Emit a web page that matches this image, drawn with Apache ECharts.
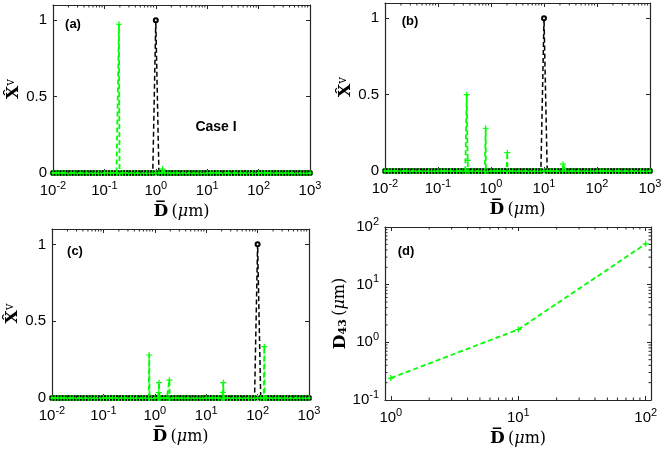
<!DOCTYPE html>
<html>
<head>
<meta charset="utf-8">
<script src="https://cdn.jsdelivr.net/npm/echarts@6/dist/echarts.min.js"></script>
<style>
  html, body { margin: 0; padding: 0; background: #fff; }
  #chart { width: 664px; height: 452px; }
</style>
</head>
<body>
<div id="chart"></div>
<script>
// size bins: mantissas inside one decade, and the decades they repeat over
const binMantissa = [1, 1.15, 1.31, 1.5, 1.72, 1.97, 2.25, 2.58, 2.96, 3.38, 3.87, 4.44, 5.08, 5.82, 6.66, 7.63, 8.73];
const binDecades = [0.01, 0.1, 1, 10, 100];
const binLast = 1000;

// initial distribution (black): non-zero bins [D, X]
const initA = [[1, 1]];
const initB = [[10, 1]];
const initC = [[100, 1]];

// recovered distribution (green): points off the zero baseline [D, X]
const resA = [[0.176, 0], [0.192, 0.974], [0.201, 0], [1.36, 0.026]];
const resB = [[0.327, 0], [0.348, 0.50], [0.363, 0.07], [0.368, 0],
              [0.78, 0], [0.794, 0.28], [0.80, 0],
              [2.0, 0], [2.03, 0.12], [2.05, 0],
              [22.8, 0.045]];
const resC = [[0.76, 0], [0.78, 0.28], [0.79, 0],
              [1.18, 0], [1.19, 0.035], [1.21, 0.10], [1.23, 0],
              [1.88, 0], [1.92, 0.116], [1.95, 0],
              [21.0, 0], [21.2, 0.036], [21.5, 0.10], [21.8, 0],
              [132, 0], [135, 0.334], [138, 0]];

// panel (d): mean size vs D43
const d43X = [1, 10, 100];
const d43Y = [0.24, 1.67, 51];

const yTicks = [0, 0.5, 1];
const minorSteps = [2, 3, 4, 5, 6, 7, 8, 9];
const panelTags = ['(a)', '(b)', '(c)', '(d)'];

const bins = binDecades.flatMap(d => binMantissa.map(m => +(d * m).toPrecision(3))).concat([binLast]);

function initSeries(peaks) {
  return bins.map(d => {
    const p = peaks.find(q => Math.abs(q[0] - d) < 1e-9);
    return [d, p ? p[1] : 0];
  });
}
function resSeries(points) {
  return bins.map(d => [d, 0]).concat(points).sort((a, b) => a[0] - b[0]);
}
function minorValues(decades, lo, hi) {
  return decades.flatMap(d => minorSteps.map(s => d * s)).filter(v => v > lo && v < hi);
}

const layout = [
  { left: 53, top: 5, width: 257, height: 168 },
  { left: 385, top: 3, width: 265, height: 168 },
  { left: 52, top: 229, width: 257, height: 169 },
  { left: 385, top: 227, width: 266, height: 173 }
];

const axisColor = '#262626';
const green = '#00ff00';
const plus = 'path://M4,0H6V4H10V6H6V10H4V6H0V4H4Z';

function powLabel(v) {
  const l = Math.log10(v);
  const e = Math.round(l);
  if (Math.abs(l - e) > 1e-6) return '';
  return '10{sup|' + e + '}';
}

const labelStyle = {
  color: '#000', fontFamily: 'Liberation Sans', fontSize: 15
};
const logLabel = Object.assign({}, labelStyle, {
  formatter: powLabel,
  lineHeight: 22,
  rich: { sup: { fontFamily: 'Liberation Sans', fontSize: 11, lineHeight: 10, verticalAlign: 'top', color: '#000' } }
});

const nameRich = {
  b: { fontFamily: 'DejaVu Serif', fontWeight: 'bold', fontSize: 17, color: '#000' },
  sup: { fontFamily: 'DejaVu Serif', fontSize: 12, verticalAlign: 'top', lineHeight: 12, color: '#000' },
  sub: { fontFamily: 'DejaVu Serif', fontWeight: 'bold', fontSize: 11, verticalAlign: 'bottom', lineHeight: 12, color: '#000' },
  r: { fontFamily: 'DejaVu Serif', fontSize: 16, color: '#000' },
  i: { fontFamily: 'DejaVu Serif', fontStyle: 'italic', fontSize: 16, color: '#000' }
};
const xName = '{b|D\u0305} {r|(}{i|\u03bc}{r|m)}';
const yNameX = '{b|X\u0302}{sup|v}';
const yNameD = '{b|D}{sub|43} {r|(}{i|\u03bc}{r|m)}';

function frameLine() {
  return { show: true, onZero: false, lineStyle: { color: axisColor, width: 1.2 } };
}
const majorTick = { show: true, inside: true, length: 4, lineStyle: { color: axisColor } };

const grids = layout.map(g => Object.assign({ containLabel: false, outerBoundsMode: 'none' }, g));
const xAxes = [];
const yAxes = [];

function addLogX(gi, min, max, nameGap) {
  xAxes.push({
    type: 'log', logBase: 10, gridIndex: gi, min: min, max: max, position: 'bottom',
    axisLine: frameLine(), axisTick: majorTick, splitLine: { show: false },
    axisLabel: Object.assign({ margin: 7 }, logLabel,
      { showMinLabel: min === 0.01, showMaxLabel: max === 1000 }),
    name: xName, nameLocation: 'middle', nameGap: nameGap,
    nameTextStyle: { rich: nameRich }
  });
  xAxes.push({
    type: 'log', logBase: 10, gridIndex: gi, min: min, max: max, position: 'top',
    axisLine: frameLine(), axisTick: majorTick, splitLine: { show: false },
    axisLabel: { show: false }
  });
}

function addLinY(gi) {
  yAxes.push({
    type: 'value', gridIndex: gi, min: 0, max: 1.1, interval: 0.5, position: 'left',
    axisLine: frameLine(), axisTick: majorTick, splitLine: { show: false },
    axisLabel: Object.assign({ margin: 6, showMaxLabel: false,
      formatter: v => (yTicks.indexOf(v) >= 0 ? String(v) : '') }, labelStyle),
    name: yNameX, nameLocation: 'middle', nameGap: 27,
    nameTextStyle: { rich: nameRich }
  });
  yAxes.push({
    type: 'value', gridIndex: gi, min: 0, max: 1.1, interval: 0.5, position: 'right',
    axisLine: frameLine(), axisTick: majorTick, splitLine: { show: false },
    axisLabel: { show: false }
  });
}

addLogX(0, 0.01, 1000, 28);
addLinY(0);
addLogX(1, 0.01, 1000, 28);
addLinY(1);
addLogX(2, 0.01, 1000, 29);
addLinY(2);
addLogX(3, 0.9, 110, 26);
yAxes.push({
  type: 'log', logBase: 10, gridIndex: 3, min: 0.1, max: 100, position: 'left',
  axisLine: frameLine(), axisTick: majorTick, splitLine: { show: false },
  axisLabel: Object.assign({ margin: 6 }, logLabel),
  name: yNameD, nameLocation: 'middle', nameGap: 36,
  nameTextStyle: { rich: nameRich }
});
yAxes.push({
  type: 'log', logBase: 10, gridIndex: 3, min: 0.1, max: 100, position: 'right',
  axisLine: frameLine(), axisTick: majorTick, splitLine: { show: false },
  axisLabel: { show: false }
});

// short inward minor ticks of the log axes, drawn on both edges of a panel
function minorTickSeries(gi, vals, horizontal) {
  return {
    type: 'custom', xAxisIndex: gi * 2, yAxisIndex: gi * 2, clip: false, silent: true, z: 5,
    data: vals.map(v => [v]),
    renderItem: function (params, api) {
      const r = params.coordSys;
      const v = api.value(0);
      const len = 2.5;
      const st = { stroke: axisColor, lineWidth: 1 };
      if (horizontal) {
        const x = api.coord([v, yAxes[gi * 2].min])[0];
        return { type: 'group', children: [
          { type: 'line', shape: { x1: x, y1: r.y, x2: x, y2: r.y + len }, style: st },
          { type: 'line', shape: { x1: x, y1: r.y + r.height, x2: x, y2: r.y + r.height - len }, style: st }
        ] };
      }
      const y = api.coord([xAxes[gi * 2].min, v])[1];
      return { type: 'group', children: [
        { type: 'line', shape: { x1: r.x, y1: y, x2: r.x + len, y2: y }, style: st },
        { type: 'line', shape: { x1: r.x + r.width, y1: y, x2: r.x + r.width - len, y2: y }, style: st }
      ] };
    }
  };
}

function blackLine(gi, data) {
  return {
    type: 'line', xAxisIndex: gi * 2, yAxisIndex: gi * 2, data: data, clip: false,
    lineStyle: { color: '#000', width: 1.5, type: [5, 3] },
    symbol: 'emptyCircle', symbolSize: 4, itemStyle: { color: '#000', borderColor: '#000', borderWidth: 1.1 },
    z: 2
  };
}
function greenLine(gi, data) {
  return {
    type: 'line', xAxisIndex: gi * 2, yAxisIndex: gi * 2, data: data, clip: false,
    lineStyle: { color: green, width: 1.8, type: [5, 3] },
    symbol: plus, symbolSize: 6, itemStyle: { color: green },
    z: 3
  };
}

const series = [
  minorTickSeries(0, minorValues(binDecades, 0.01, 1000), true),
  minorTickSeries(1, minorValues(binDecades, 0.01, 1000), true),
  minorTickSeries(2, minorValues(binDecades, 0.01, 1000), true),
  minorTickSeries(3, minorValues([1, 10, 100], 0.9, 110), true),
  minorTickSeries(3, minorValues([0.1, 1, 10], 0.1, 100), false),
  blackLine(0, initSeries(initA)), greenLine(0, resSeries(resA)),
  blackLine(1, initSeries(initB)), greenLine(1, resSeries(resB)),
  blackLine(2, initSeries(initC)), greenLine(2, resSeries(resC)),
  greenLine(3, d43X.map((x, i) => [x, d43Y[i]]))
];

const tagPos = [[73, 24], [410, 21], [75, 251], [406, 251]];
const graphic = panelTags.map((t, i) => ({
  type: 'text', x: tagPos[i][0], y: tagPos[i][1], z: 10,
  style: { text: t, fill: '#000', fontFamily: 'Liberation Sans', fontWeight: 'bold', fontSize: 13,
    align: 'center', verticalAlign: 'middle' }
}));
graphic.push({
  type: 'text', x: 216, y: 127, z: 10,
  style: { text: 'Case I', fill: '#000', fontFamily: 'Liberation Sans', fontWeight: 'bold', fontSize: 14,
    align: 'center', verticalAlign: 'middle' }
});

const chart = echarts.init(document.getElementById('chart'));
chart.setOption({
  animation: false,
  backgroundColor: '#fff',
  grid: grids,
  xAxis: xAxes,
  yAxis: yAxes,
  series: series,
  graphic: graphic
});
</script>
</body>
</html>
